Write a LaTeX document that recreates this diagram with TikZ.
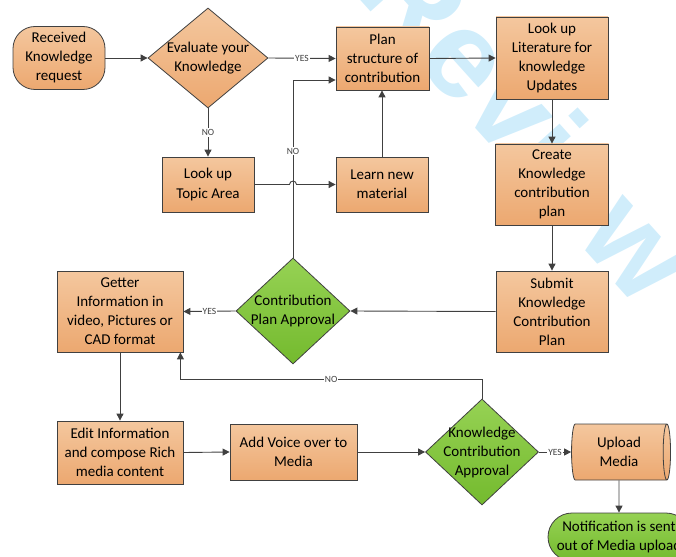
\documentclass[tikz,border=0pt]{standalone}
\usepackage{fontspec}
\setmainfont{Carlito}
\newfontfamily\wmfont{Liberation Sans}
\usetikzlibrary{shapes.geometric,arrows.meta,calc}
\definecolor{orL}{RGB}{244,199,158}
\definecolor{orD}{RGB}{236,168,112}
\definecolor{grL}{RGB}{150,210,84}
\definecolor{grD}{RGB}{116,186,46}
\definecolor{linec}{RGB}{64,64,64}
\definecolor{wmark}{RGB}{208,237,251}
\begin{document}
\begin{tikzpicture}[x=1pt,y=-1pt,
  txt/.style={align=center,font=\fontsize{15}{19}\selectfont,text=black},
  proc/.style={draw=linec,line width=0.8pt,top color=orL,bottom color=orD,txt,inner sep=0pt,rectangle},
  term/.style={proc,rounded corners=22pt},
  termg/.style={draw=linec,line width=0.8pt,top color=grL,bottom color=grD,txt,inner sep=0pt,rounded corners=24pt},
  dec/.style={diamond,draw=linec,line width=0.8pt,top color=grL,bottom color=grD,inner sep=0pt},
  deco/.style={diamond,draw=linec,line width=0.8pt,top color=orL,bottom color=orD,inner sep=0pt},
  arr/.style={draw=linec,line width=0.9pt,-{Triangle[length=7pt,width=7pt]}},
  lbl/.style={font=\fontsize{9.5}{10}\selectfont,fill=white,inner sep=1pt,text=linec}]
\useasboundingbox (0,0) rectangle (676,556);
\clip (0,0) rectangle (676,556);
\node[text=wmark,font=\wmfont\bfseries\fontsize{124}{124}\selectfont,rotate=-48,inner sep=0pt] (wm) at (529,122) {Review};

\node[term,minimum width=92pt,minimum height=63pt] (recv) at (59,58) {Received\\Knowledge\\request};
\node[deco,minimum width=120pt,minimum height=100pt,label={[txt]center:Evaluate your\\Knowledge}] (eval) at (208,58) {};
\node[proc,minimum width=93pt,minimum height=63pt] (plan) at (382.5,58.5) {Plan\\structure of\\contribution};
\node[proc,minimum width=112pt,minimum height=82pt] (lit) at (552,58) {Look up\\Literature for\\knowledge\\Updates};
\node[proc,minimum width=92pt,minimum height=55pt] (topic) at (208,184.5) {Look up\\Topic Area};
\node[proc,minimum width=92pt,minimum height=55pt] (learn) at (382,184.5) {Learn new\\material};
\node[proc,minimum width=113pt,minimum height=81pt] (create) at (552,184.5) {Create\\Knowledge\\contribution\\plan};
\node[proc,minimum width=112pt,minimum height=81pt] (submit) at (552,311.5) {Submit\\Knowledge\\Contribution\\Plan};
\node[dec,minimum width=114pt,minimum height=106pt,label={[txt]center:Contribution\\Plan Approval}] (cpa) at (293,311) {};
\node[proc,minimum width=126pt,minimum height=81pt] (getter) at (120,311.5) {Getter\\Information in\\video, Pictures or\\CAD format};
\node[proc,minimum width=126pt,minimum height=63pt] (edit) at (120,452.5) {Edit Information\\and compose Rich\\media content};
\node[proc,minimum width=127pt,minimum height=56pt] (voice) at (293.5,452) {Add Voice over to\\Media};
\node[dec,minimum width=113pt,minimum height=106pt,label={[txt]center:Knowledge\\Contribution\\Approval}] (kca) at (482,452) {};
\node[cylinder,shape aspect=0.25,draw=linec,line width=0.8pt,top color=orL,bottom color=orD,txt,inner sep=0pt,minimum width=56pt,minimum height=99pt] (upload) at (619,452) {Upload\\Media};
\node[termg,minimum width=142pt,minimum height=48pt] (notif) at (619,537) {Notification is sent\\out of Media upload};

\coordinate (hop) at (cpa.north |- topic.east);
\coordinate (planin) at ([yshift=-21.5pt]plan.west);

\draw[arr] (recv) -- (eval);
\draw[arr] (eval.east) -- node[lbl]{YES} (plan.west);
\draw[arr] (eval.south) -- node[lbl]{NO} (topic.north);
\draw[arr] (topic.east) -- ([xshift=-3.5pt]hop) .. controls ([xshift=-3.5pt,yshift=4.5pt]hop) and ([xshift=3.5pt,yshift=4.5pt]hop) .. ([xshift=3.5pt]hop) -- (learn.west);
\draw[arr] (learn.north) -- (learn.north |- plan.south);
\draw[arr] (plan.east) -- (lit.west);
\draw[arr] (lit.south) -- (create.north);
\draw[arr] (create.south) -- (submit.north);
\draw[arr] (submit.west) -- (cpa.east);
\draw[arr] (cpa.west) -- node[lbl]{YES} (getter.east);
\draw[arr] (cpa.north) -- node[lbl,pos=0.6]{NO} (cpa.north |- planin) -- (planin);
\draw[arr] (getter.south) -- (edit.north);
\draw[arr] (edit.east) -- (voice.west);
\draw[arr] (voice.east) -- (kca.west);
\coordinate (noret) at ([xshift=-3pt]getter.south east);
\draw[arr] (kca.north) -- (kca.north |- 0,379) -- node[lbl]{NO} (noret |- 0,379) -- (noret);
\draw[arr] (kca.east) -- node[lbl]{YES} (upload.west);
\draw[arr] (upload.south) -- (notif.north);
\end{tikzpicture}
\end{document}
